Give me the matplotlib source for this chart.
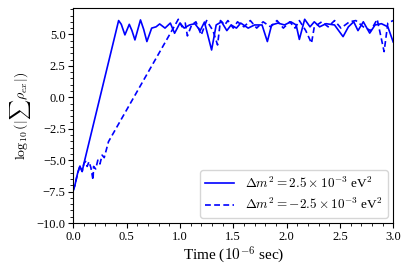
import numpy as np
import matplotlib
matplotlib.use("Agg")
import matplotlib.pyplot as plt
from matplotlib.ticker import MultipleLocator

plt.rcParams['font.family'] = ['Liberation Serif', 'DejaVu Serif']
plt.rcParams['mathtext.fontset'] = 'cm'

# positive mass splitting (solid)
t_pos = [0.0, 0.015, 0.04, 0.062, 0.083, 0.10, 0.425, 0.45, 0.484, 0.525, 0.55, 0.578,
         0.63, 0.66, 0.69, 0.735, 0.776, 0.81, 0.86, 0.91, 0.95, 1.0, 1.04, 1.09,
         1.14, 1.19, 1.23, 1.297, 1.34, 1.39, 1.44, 1.48, 1.53, 1.57, 1.64, 1.70,
         1.77, 1.82, 1.86, 1.92, 1.98, 2.04, 2.09, 2.12, 2.17, 2.22, 2.26, 2.31,
         2.37, 2.45, 2.53, 2.58, 2.63, 2.67, 2.72, 2.78, 2.83, 2.89, 2.95, 3.0]
v_pos = [-7.4, -7.0, -6.05, -5.47, -5.9, -5.25, 6.1, 5.8, 4.96, 5.8, 5.3, 4.56,
         6.15, 5.4, 4.43, 5.5, 5.6, 5.83, 5.5, 5.9, 5.09, 5.9, 5.5, 5.75,
         5.85, 5.3, 5.98, 3.76, 5.75, 6.0, 5.3, 5.75, 5.5, 5.9, 5.5, 5.75,
         5.75, 4.43, 5.75, 5.9, 5.75, 6.0, 5.75, 4.6, 6.2, 5.6, 6.0, 5.6,
         5.85, 5.75, 4.82, 5.6, 6.0, 5.3, 6.0, 5.1, 5.75, 5.85, 5.6, 4.4]

# negative mass splitting (dashed)
t_neg = [0.0, 0.015, 0.04, 0.062, 0.083, 0.10, 0.115, 0.13, 0.147, 0.165, 0.185, 0.19,
         0.21, 0.23, 0.25, 0.27, 0.29, 0.33, 0.985, 1.02, 1.05, 1.07, 1.11, 1.15,
         1.2, 1.25, 1.31, 1.353, 1.38, 1.42, 1.45, 1.5, 1.54, 1.6, 1.66, 1.72,
         1.78, 1.85, 1.91, 1.97, 2.03, 2.08, 2.12, 2.18, 2.234, 2.26, 2.33, 2.39,
         2.45, 2.51, 2.59, 2.65, 2.72, 2.79, 2.85, 2.915, 2.95, 3.0]
v_neg = [-7.4, -7.0, -6.05, -5.47, -5.9, -5.25, -5.1, -5.5, -5.12, -5.6, -6.58, -5.5,
         -5.7, -5.0, -5.3, -4.6, -4.8, -3.53, 6.2, 5.6, 5.9, 4.88, 5.75, 6.0,
         4.95, 6.1, 5.3, 4.16, 6.1, 5.75, 6.1, 5.5, 6.0, 5.6, 6.1, 5.5,
         6.0, 5.6, 6.1, 5.5, 6.0, 5.5, 6.1, 5.3, 4.3, 5.6, 6.0, 5.6,
         6.1, 5.5, 6.0, 6.1, 5.6, 5.3, 6.2, 3.63, 5.9, 6.1]

fig = plt.figure(figsize=(4.13, 2.75), dpi=100)
ax = fig.add_axes([0.1775, 0.189, 0.7745, 0.782])

ax.plot(t_pos, v_pos, color='#0000ff', lw=1.2,
        label=r'$\Delta m^2 = 2.5 \times 10^{-3}$ eV$^2$')
ax.plot(t_neg, v_neg, color='#0000ff', lw=1.2, ls=(0, (3.5, 2)),
        label=r'$\Delta m^2 = -2.5 \times 10^{-3}$ eV$^2$')

ax.set_xlim(0, 3.0)
ax.set_ylim(-10, 7.1)
ax.xaxis.set_major_locator(MultipleLocator(0.5))
ax.xaxis.set_minor_locator(MultipleLocator(0.1))
ax.yaxis.set_major_locator(MultipleLocator(2.5))
ax.yaxis.set_minor_locator(MultipleLocator(0.5))
ax.tick_params(labelsize=9, length=3.5, width=0.8, pad=2)
ax.tick_params(which='minor', length=2, width=0.6)

ax.set_xlabel(r'Time ($10^{-6}$ sec)', fontsize=11, labelpad=1)
ax.set_ylabel(r'$\log_{10}(|\sum\rho_{ex}|)$', fontsize=10, labelpad=3)
ax.legend(loc='lower right', fontsize=9.5, handlelength=2.2, borderaxespad=0.4)

fig.savefig('out.png', dpi=100)
